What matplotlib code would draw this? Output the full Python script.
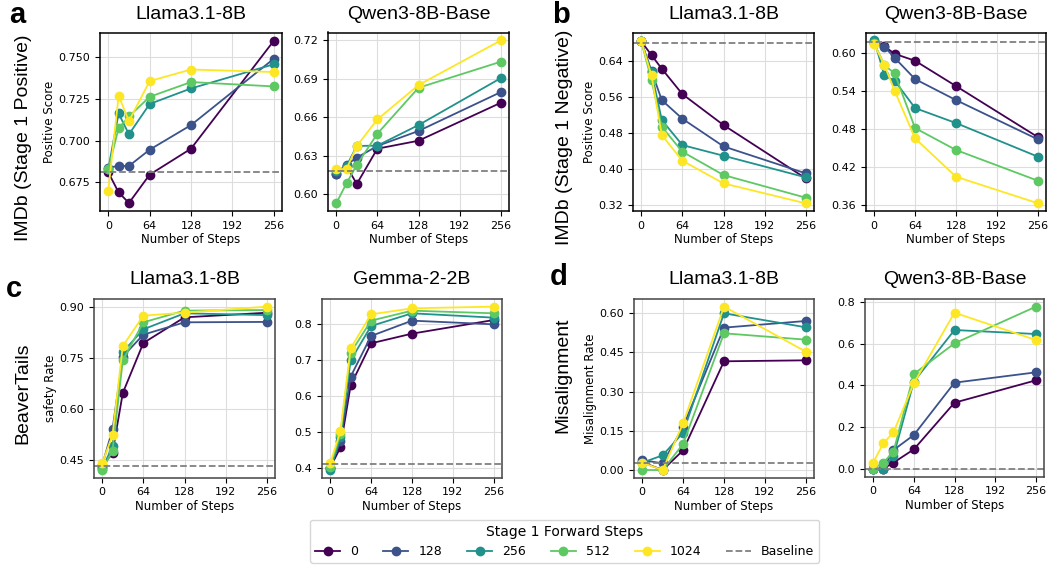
import numpy as np
import matplotlib
matplotlib.use("Agg")
import matplotlib.pyplot as plt
from matplotlib.ticker import FormatStrFormatter

steps = [0, 16, 32, 64, 128, 256]
steps_short = [0, 32, 64, 128, 256]
stage1 = ["0", "128", "256", "512", "1024"]

# panel a : IMDb stage 1 positive
a_llama = [[0.681, 0.669, 0.6627, 0.6796, 0.6951, 0.7595],
           [0.6838, 0.6848, 0.6848, 0.6945, 0.7092, 0.7488],
           [0.683, 0.7162, 0.7037, 0.7218, 0.7311, 0.7455],
           [0.683, 0.7074, 0.7144, 0.7261, 0.7349, 0.7323],
           [0.670, 0.7267, 0.7116, 0.7355, 0.7424, 0.7409]]
a_qwen = [[0.6156, 0.622, 0.6081, 0.6356, 0.6418, 0.6714],
          [0.6156, 0.6231, 0.6286, 0.6377, 0.6494, 0.6797],
          [0.618, 0.622, 0.6377, 0.638, 0.654, 0.6906],
          [0.593, 0.6086, 0.6229, 0.6473, 0.6831, 0.7034],
          [0.6197, 0.6197, 0.6377, 0.6584, 0.6852, 0.72]]
# panel b : IMDb stage 1 negative
b_llama = [[0.684, 0.6533, 0.623, 0.5667, 0.4978, 0.3793],
           [0.684, 0.6178, 0.5533, 0.5119, 0.4504, 0.3904],
           [0.684, 0.615, 0.509, 0.4533, 0.4296, 0.3815],
           [0.684, 0.5978, 0.494, 0.4385, 0.3867, 0.3363],
           [0.684, 0.6081, 0.4756, 0.4185, 0.3681, 0.3237]]
b_qwen = [[0.618, 0.610, 0.5984, 0.5874, 0.5475, 0.4671],
          [0.616, 0.6095, 0.5921, 0.5585, 0.5254, 0.4635],
          [0.620, 0.5643, 0.5559, 0.5128, 0.4892, 0.4362],
          [0.615, 0.5806, 0.5674, 0.4813, 0.4467, 0.3983],
          [0.6137, 0.5806, 0.5401, 0.465, 0.4046, 0.3627]]
# panel c : BeaverTails
c_llama = [[0.43, 0.4717, 0.6476, 0.7949, 0.8705, 0.884],
           [0.435, 0.5405, 0.755, 0.8195, 0.8558, 0.857],
           [0.425, 0.49, 0.7684, 0.8352, 0.8823, 0.877],
           [0.4206, 0.478, 0.7438, 0.8558, 0.8902, 0.892],
           [0.4403, 0.5238, 0.786, 0.8754, 0.8843, 0.902]]
c_gemma = [[0.40, 0.4566, 0.6292, 0.7462, 0.7731, 0.8111],
           [0.40, 0.4742, 0.6534, 0.7666, 0.8093, 0.799],
           [0.3935, 0.485, 0.6988, 0.7944, 0.8297, 0.8176],
           [0.403, 0.4937, 0.72, 0.8093, 0.8371, 0.8297],
           [0.412, 0.5021, 0.7322, 0.8269, 0.8436, 0.8483]]
# panel d : Misalignment
d_llama = [[0.03, 0.0, 0.0753, 0.4162, 0.42],
           [0.0383, 0.0255, 0.166, 0.5451, 0.5706],
           [0.028, 0.0562, 0.143, 0.60, 0.5464],
           [0.0, 0.0, 0.0996, 0.5234, 0.4991],
           [0.028, 0.0, 0.1787, 0.6255, 0.4532]]
d_qwen = [[0.0, 0.0, 0.029, 0.0928, 0.3168, 0.424],
          [0.0, 0.0, 0.0896, 0.1616, 0.4128, 0.4624],
          [0.0, 0.0, 0.061, 0.4176, 0.6656, 0.6464],
          [0.0, 0.029, 0.0816, 0.4544, 0.6016, 0.7776],
          [0.0288, 0.1216, 0.1744, 0.4096, 0.7488, 0.6176]]

baselines = [0.681, 0.6182, 0.6807, 0.6163, 0.4334, 0.4102, 0.0255, 0.0]

colors = plt.cm.viridis(np.linspace(0, 1, 5))
W, H = 1048, 565
fig = plt.figure(figsize=(W / 100, H / 100), dpi=100)

# (left, right, top, bottom) in pixels
boxes = [(100, 282, 32.5, 211), (328, 509, 32.5, 211), (633, 814, 32.5, 211), (866, 1046, 32.5, 211),
         (94, 275, 299.3, 477.7), (322, 502, 299.3, 477.7), (634, 814, 299.3, 477.7), (865, 1044, 299, 476.7)]
panels = [(steps, a_llama, "Llama3.1-8B", "Positive Score", (0.6579, 0.7645), [0.675, 0.7, 0.725, 0.75], "%.3f"),
          (steps, a_qwen, "Qwen3-8B-Base", None, (0.587, 0.7262), [0.60, 0.63, 0.66, 0.69, 0.72], "%.2f"),
          (steps, b_llama, "Llama3.1-8B", "Positive Score", (0.3067, 0.7037), [0.32, 0.40, 0.48, 0.56, 0.64], "%.2f"),
          (steps, b_qwen, "Qwen3-8B-Base", None, (0.3505, 0.632), [0.36, 0.42, 0.48, 0.54, 0.60], "%.2f"),
          (steps, c_llama, "Llama3.1-8B", "safety Rate", (0.398, 0.9236), [0.45, 0.60, 0.75, 0.90], "%.2f"),
          (steps, c_gemma, "Gemma-2-2B", None, (0.3722, 0.8687), [0.4, 0.5, 0.6, 0.7, 0.8], "%.1f"),
          (steps_short, d_llama, "Llama3.1-8B", "Misalignment Rate", (-0.0294, 0.6536), [0.0, 0.15, 0.30, 0.45, 0.60], "%.2f"),
          (steps, d_qwen, "Qwen3-8B-Base", None, (-0.0384, 0.8144), [0.0, 0.2, 0.4, 0.6, 0.8], "%.1f")]

title_font = ["Liberation Sans", "DejaVu Sans"]
for i, ((l, r, t, b), (xs, ys, title, ylab, ylim, yt, fmt)) in enumerate(zip(boxes, panels)):
    ax = fig.add_axes([l / W, 1 - b / H, (r - l) / W, (b - t) / H])
    for k in range(5):
        ax.plot(xs, ys[k], "-o", color=colors[k], lw=1.3, ms=6, label=stage1[k])
    ax.axhline(baselines[i], color="gray", ls="--", lw=1.3, label="Baseline")
    ax.set_xlim(-12.8, 268.8)
    ax.set_ylim(*ylim)
    ax.set_xticks([0, 64, 128, 192, 256])
    ax.set_yticks(yt)
    ax.yaxis.set_major_formatter(FormatStrFormatter(fmt))
    ax.tick_params(labelsize=8)
    ax.grid(True, color="#dddddd", lw=0.8)
    ax.set_axisbelow(True)
    ax.set_xlabel("Number of Steps", fontsize=8.5, labelpad=2)
    if ylab:
        ax.set_ylabel(ylab, fontsize=8.5, labelpad=2)
    ax.set_title(title, fontsize=14, family=title_font, pad=10 if i < 4 else 11)
    for s in ax.spines.values():
        s.set_linewidth(1.1)
        s.set_color("black" if i < 4 else "#444444")
    if i == 0:
        handles, labels = ax.get_legend_handles_labels()

# row labels
fig.text(0.022, 0.757, "IMDb (Stage 1 Positive)", rotation=90, ha="center", va="center", fontsize=14, family=title_font)
fig.text(0.539, 0.757, "IMDb (Stage 1 Negative)", rotation=90, ha="center", va="center", fontsize=14, family=title_font)
fig.text(0.022, 0.304, "BeaverTails", rotation=90, ha="center", va="center", fontsize=14, family=title_font)
fig.text(0.537, 0.336, "Misalignment", rotation=90, ha="center", va="center", fontsize=14, family=title_font)

# panel letters
letter_font = dict(fontsize=21, fontweight="bold", family=title_font, va="baseline")
fig.text(0.009, 1 - 23 / H, "a", **letter_font)
fig.text(0.527, 1 - 23 / H, "b", **letter_font)
fig.text(0.006, 1 - 297 / H, "c", **letter_font)
fig.text(0.525, 1 - 285 / H, "d", **letter_font)

fig.legend(handles, labels, loc="center", bbox_to_anchor=(0.539, 0.042), ncol=6,
           title="Stage 1 Forward Steps", fontsize=9, title_fontsize=10)

fig.savefig("out.png", dpi=100)
